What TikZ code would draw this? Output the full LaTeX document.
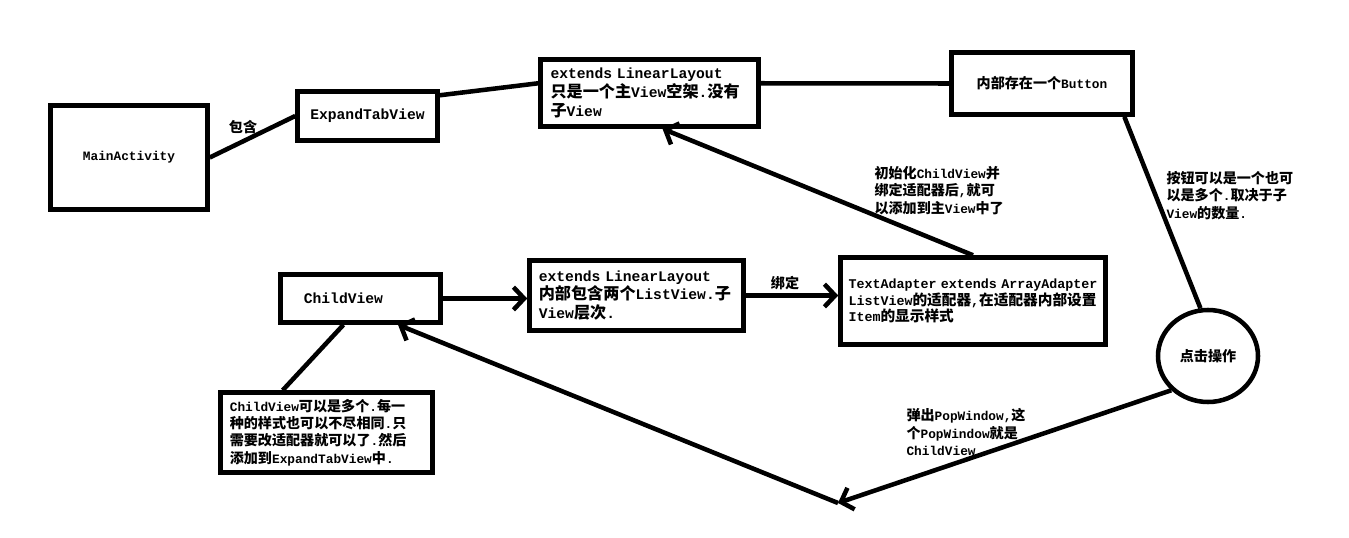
\documentclass[tikz,border=0pt]{standalone}
\usepackage{fontspec}
\setmonofont{Liberation Mono}
\newfontfamily\cjk[Scale=1.1]{Noto Sans CJK SC}
\newcommand{\zh}[1]{{\cjk #1}}
\usetikzlibrary{arrows.meta,shapes.geometric}

\tikzset{every picture/.style={line width=0.75pt}}
\tikzset{
  bigfont/.style={font=\ttfamily\bfseries\fontsize{11}{14}\selectfont},
  smallfont/.style={font=\ttfamily\bfseries\fontsize{9.6}{13}\selectfont},
  box/.style={draw, line width=3.4pt, inner sep=0pt},
  notebox/.style={box, align=left},
  link/.style={line width=3.4pt},
  arr/.style={link, -{Straight Barb[length=8pt,width=17pt]}},
  note/.style={smallfont, align=left, anchor=north west, inner sep=0.75pt},
}

\begin{document}
\begin{tikzpicture}[x=0.75pt,y=0.75pt,yscale=-1,xscale=1]
\useasboundingbox (0,0) rectangle (1349,538);

%Shape: Rectangle [id:dp4410873262] 
\node (main) [box, smallfont, minimum width=117.75pt, minimum height=78pt] at (129,157.5) {MainActivity};
%Shape: Rectangle [id:dp7302918454] 
\node (expand) [box, bigfont, minimum width=105pt, minimum height=36.75pt] at (367.5,116) {ExpandTabView};
%Shape: Rectangle [id:dp1958204716] 
\node (frame) [notebox, bigfont, text width=148.5pt, inner xsep=7.5pt, minimum height=50.25pt] at (649.5,93)
  {extends LinearLayout\\ \zh{只是一个主}View\zh{空架}.\zh{没有}\\ \zh{子}View};
%Shape: Rectangle [id:dp6627140385] 
\node (button) [box, smallfont, minimum width=135.75pt, minimum height=46.5pt] at (1042,83.5) {\zh{内部存在一个}Button};
%Shape: Ellipse [id:dp2289514067] 
\node (click) [box, ellipse, smallfont, minimum width=75pt, minimum height=69pt] at (1208,356) {\zh{点击操作}};
%Shape: Rectangle [id:dp8836102759] 
\node (adapter) [notebox, font=\ttfamily\bfseries\fontsize{10}{12.5}\selectfont, text width=186.75pt, inner xsep=6pt, minimum height=65.25pt] at (973,301)
  {TextAdapter~extends~ArrayAdapter\\ ListView\zh{的适配器},\zh{在适配器内部设置}\\ Item\zh{的显示样式}};
%Shape: Rectangle [id:dp5174390621] 
\node (child) [notebox, bigfont, text width=85pt, inner xsep=17.5pt, minimum height=36pt] at (360.5,298.5) {ChildView};
%Shape: Rectangle [id:dp3091865472] 
\node (inner) [notebox, bigfont, text width=146.5pt, inner xsep=7pt, minimum height=52.5pt] at (636.5,295.5)
  {extends LinearLayout\\ \zh{内部包含两个}ListView.\zh{子}\\ View\zh{层次}.};
%Shape: Rectangle [id:dp9472035518] 
\node (desc) [notebox, smallfont, text width=145pt, inner xsep=7pt, minimum height=60pt] at (326.5,432.5)
  {ChildView\zh{可以是多个}.\zh{每一}\\ \zh{种的样式也可以不尽相同}.\zh{只}\\ \zh{需要改适配器就可以了}.\zh{然后}\\ \zh{添加到}ExpandTabView\zh{中}.};

\coordinate (turn) at (838,503);

%Straight Lines [id:da2716390458] 
\draw [link] (main.east) -- (expand.west);
%Straight Lines [id:da8140263917] 
\draw [link] (expand.16) -- (frame.175);
%Straight Lines [id:da5539102846] 
\draw [link] (frame.5) -- (button.west);
%Straight Lines [id:da0364871259] 
\draw [link] (button.-22) -- (click.99);
%Straight Lines [id:da7725016483] 
\draw [arr] (adapter.north) -- (frame.-70);
%Straight Lines [id:da3381920745] 
\draw [arr] (child.east) -- (child.east -| inner.west);
%Straight Lines [id:da6152284709] 
\draw [arr] (inner.east) -- (inner.east -| adapter.west);
%Straight Lines [id:da4908317622] 
\draw [link] (child.-123) -- (desc.136);
%Straight Lines [id:da1827746093] 
\draw [arr] (click.-137) -- (turn);
%Straight Lines [id:da6630918245] 
\draw [arr] (turn) -- (child.-35);

% Text Node
\node (contain) [smallfont, inner sep=0.75pt] at (243,127) {\zh{包含}};
% Text Node
\node (bind) [smallfont, inner sep=0.75pt] at (785,283) {\zh{绑定}};
% Text Node
\node (initnote) [note] at (873,165) {\zh{初始化}ChildView\zh{并}\\ \zh{绑定适配器后},\zh{就可}\\ \zh{以添加到主}View\zh{中了}};
% Text Node
\node (btnnote) [note] at (1165,170) {\zh{按钮可以是一个也可}\\ \zh{以是多个}.\zh{取决于子}\\ View\zh{的数量}.};
% Text Node
\node (popnote) [note] at (905,407) {\zh{弹出}PopWindow,\zh{这}\\ \zh{个}PopWindow\zh{就是}\\ ChildView.};

\end{tikzpicture}
\end{document}
